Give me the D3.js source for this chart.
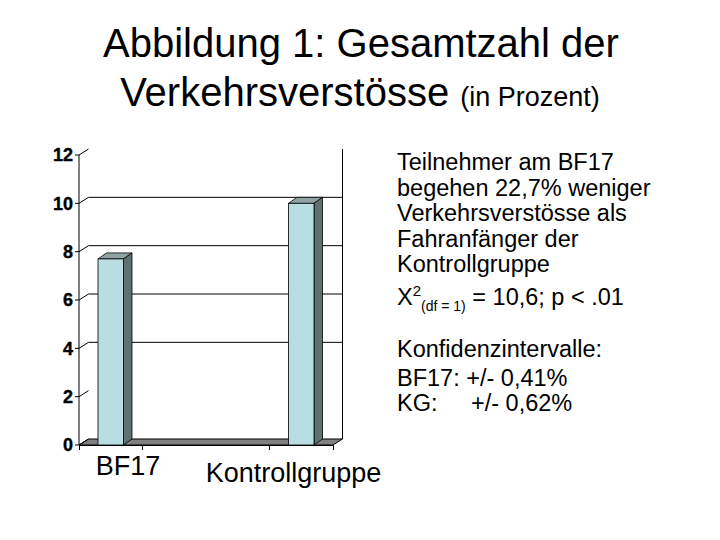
<!DOCTYPE html>
<html>
<head>
<meta charset="utf-8">
<script src="https://d3js.org/d3.v7.min.js"></script>
<style>
body { margin: 0; background: #fff; }
svg { font-family: "Liberation Sans", Arial, sans-serif; }
</style>
</head>
<body>
<div id="chart"></div>
<script>
  // data
  var categories = ["BF17", "Kontrollgruppe"];
  var values = [7.7, 10.0];
  var yTicks = [0, 2, 4, 6, 8, 10, 12];
  var gridValues = [4, 6, 8, 10];
  var noteLines = ["Teilnehmer am BF17", "begehen 22,7% weniger", "Verkehrsverstösse als",
                   "Fahranfänger der", "Kontrollgruppe"];
  var ciLines = [["Konfidenzintervalle:", ""], ["BF17:", "+/- 0,41%"], ["KG:", "+/- 0,62%"]];

  var width = 720, height = 540;
  var plotLeft = 79, plotRight = 333, plotBottom = 445, plotTop = 155;
  var dx = 9.5, dy = -6;       // depth of the 3d wall
  var barW = 25.5, barDx = 8.5, barDy = -6;

  var svg = d3.select("#chart").append("svg")
    .attr("width", width)
    .attr("height", height);

  // title
  var title = svg.append("text").attr("text-anchor", "middle").attr("fill", "#000");
  title.append("tspan").attr("x", 361).attr("y", 57).attr("font-size", 40)
    .text("Abbildung 1: Gesamtzahl der");
  var t2 = title.append("tspan").attr("x", 360).attr("y", 106);
  t2.append("tspan").attr("font-size", 40).text("Verkehrsverstösse ");
  t2.append("tspan").attr("font-size", 27).text("(in Prozent)");

  var yScale = d3.scaleLinear().domain([0, 12]).range([plotBottom, plotTop]);
  var xBand = d3.scaleBand().domain(categories).range([plotLeft, plotRight]);
  var xPoint = d3.scalePoint().domain(categories).range([plotLeft, plotRight]).padding(1 / 6);

  var g = svg.append("g");

  // floor
  g.append("polygon")
    .attr("points", [[plotLeft, plotBottom], [plotRight, plotBottom],
                     [plotRight + dx, plotBottom + dy], [plotLeft + dx, plotBottom + dy]].join(" "))
    .attr("fill", "#808080")
    .attr("stroke", "#000")
    .attr("stroke-width", 1);

  // back wall right edge
  g.append("line")
    .attr("x1", plotRight + dx).attr("x2", plotRight + dx)
    .attr("y1", yScale(12) + dy).attr("y2", plotBottom + dy)
    .attr("stroke", "#000");

  // gridlines on back wall
  g.selectAll(".grid").data(gridValues).enter().append("line")
    .attr("class", "grid")
    .attr("x1", plotLeft + dx).attr("x2", plotRight + dx)
    .attr("y1", function(d) { return yScale(d) + dy; })
    .attr("y2", function(d) { return yScale(d) + dy; })
    .attr("stroke", "#000");

  // y axis with slanted ticks
  g.append("line")
    .attr("x1", plotLeft).attr("x2", plotLeft)
    .attr("y1", yScale(12)).attr("y2", plotBottom)
    .attr("stroke", "#000");
  g.selectAll(".ytick").data(yTicks).enter().append("path")
    .attr("class", "ytick")
    .attr("d", function(d) {
      return "M" + (plotLeft - 4) + "," + yScale(d) + "H" + plotLeft +
             "L" + (plotLeft + dx) + "," + (yScale(d) + dy);
    })
    .attr("fill", "none")
    .attr("stroke", "#000");
  g.selectAll(".ylab").data(yTicks).enter().append("text")
    .attr("class", "ylab")
    .attr("x", 73)
    .attr("y", function(d) { return yScale(d); })
    .attr("dy", "0.36em")
    .attr("text-anchor", "end")
    .attr("font-size", 18)
    .attr("font-weight", "bold")
    .attr("stroke", "#000")
    .attr("stroke-width", 0.4)
    .text(function(d) { return d; });

  // x axis
  var xAxis = g.append("g")
    .attr("transform", "translate(0," + plotBottom + ")")
    .call(d3.axisBottom(xBand).tickSize(5).tickSizeOuter(5).tickFormat(""));
  xAxis.select(".domain").attr("stroke", "#000");
  xAxis.selectAll(".tick line").attr("stroke", "#000");

  // bars
  var bars = g.selectAll(".bar").data(values).enter().append("g").attr("class", "bar");
  function x0(d, i) { return xPoint(categories[i]) - barW / 2; }
  bars.append("polygon")   // top
    .attr("points", function(d, i) {
      var x = x0(d, i), y = yScale(d);
      return [[x, y], [x + barW, y], [x + barW + barDx, y + barDy], [x + barDx, y + barDy]].join(" ");
    })
    .attr("fill", "#8fa3a5").attr("stroke", "#000").attr("stroke-width", 0.8);
  bars.append("polygon")   // side
    .attr("points", function(d, i) {
      var x = x0(d, i) + barW, y = yScale(d);
      return [[x, y], [x + barDx, y + barDy], [x + barDx, plotBottom + barDy], [x, plotBottom]].join(" ");
    })
    .attr("fill", "#5f7071").attr("stroke", "#000").attr("stroke-width", 0.8);
  bars.append("rect")      // front
    .attr("x", x0)
    .attr("y", function(d) { return yScale(d); })
    .attr("width", barW)
    .attr("height", function(d) { return plotBottom - yScale(d); })
    .attr("fill", "#b9dee2").attr("stroke", "#000").attr("stroke-width", 0.8);

  // category labels
  var labelShift = [[-14.5, 30], [24, 37]];
  g.selectAll(".xlab").data(categories).enter().append("text")
    .attr("class", "xlab")
    .attr("x", function(d, i) { return xBand(d) + xBand.bandwidth() / 2 + labelShift[i][0]; })
    .attr("y", function(d, i) { return plotBottom + labelShift[i][1]; })
    .attr("text-anchor", "middle")
    .attr("font-size", 27)
    .text(function(d) { return d; });

  // notes
  var notes = svg.append("g").attr("font-size", 23.5).attr("fill", "#000");
  notes.selectAll(".note").data(noteLines).enter().append("text")
    .attr("class", "note")
    .attr("x", 397)
    .attr("y", function(d, i) { return 170 + i * 25.5; })
    .text(function(d) { return d; });

  var chi = notes.append("text").attr("x", 397).attr("y", 305);
  chi.append("tspan").text("X");
  chi.append("tspan").attr("font-size", 15).attr("dy", -9).text("2");
  chi.append("tspan").attr("font-size", 14).attr("dy", 15).text("(df = 1)");
  chi.append("tspan").attr("dy", -6).text(" = 10,6; p < .01");

  var ciY = [357, 386, 411];
  var ci = notes.selectAll(".ci").data(ciLines).enter().append("text")
    .attr("class", "ci")
    .attr("x", 397)
    .attr("y", function(d, i) { return ciY[i]; });
  ci.append("tspan").text(function(d) { return d[0]; });
  ci.append("tspan")
    .attr("x", function(d, i) { return i === 2 ? 471 : null; })
    .text(function(d, i) { return i === 1 ? " " + d[1] : d[1]; });
</script>
</body>
</html>
